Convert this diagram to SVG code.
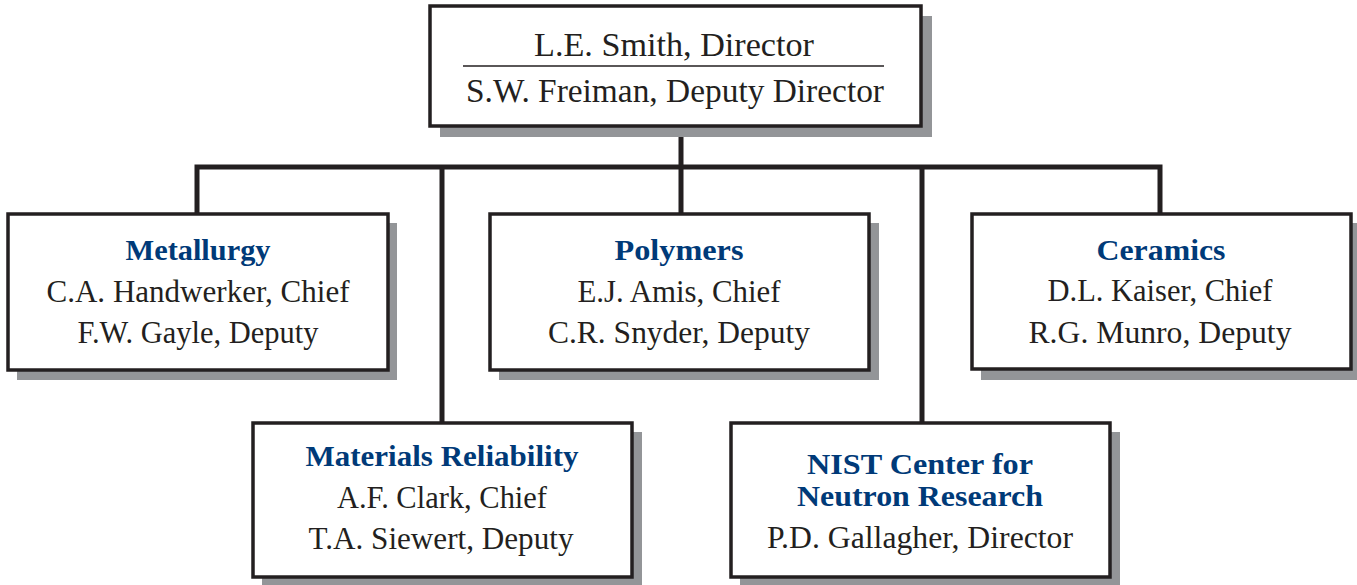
<svg xmlns="http://www.w3.org/2000/svg" width="1357" height="585" viewBox="0 0 1357 585">
<style>
.shadow{fill:#939598}
.box{fill:#fff;stroke:#231f20;stroke-width:3.5}
.t{font-family:"Liberation Serif","Times New Roman",serif;font-size:31px;fill:#231f20;text-anchor:middle}
.top{font-size:34px}
.h{font-family:"Liberation Serif","Times New Roman",serif;font-size:30px;font-weight:bold;fill:#003a78;text-anchor:middle}
.conn{fill:none;stroke:#231f20;stroke-width:5}
</style>
<rect width="1357" height="585" fill="#fff"/>
<g id="connectors">
<path class="conn" d="M681 126V167M197 214V167H1160V214M442 167V423M681 167V214M922 167V423"/>
</g>
<g id="director">
<rect class="shadow" x="440" y="16" width="492" height="121"/>
<rect class="box" x="430" y="6" width="491" height="120"/>
<line x1="463" y1="66" x2="884" y2="66" stroke="#231f20" stroke-width="1.5"/>
<text class="t top" x="674" y="56" textLength="280" lengthAdjust="spacingAndGlyphs">L.E. Smith, Director</text>
<text class="t top" x="675" y="102" textLength="418" lengthAdjust="spacingAndGlyphs">S.W. Freiman, Deputy Director</text>
</g>
<g id="metallurgy">
<rect class="shadow" x="17" y="223" width="380" height="157"/>
<rect class="box" x="8" y="214" width="380" height="156"/>
<text class="h" x="198" y="260" textLength="145" lengthAdjust="spacingAndGlyphs">Metallurgy</text>
<text class="t" x="198" y="302" textLength="303" lengthAdjust="spacingAndGlyphs">C.A. Handwerker, Chief</text>
<text class="t" x="198" y="343" textLength="241" lengthAdjust="spacingAndGlyphs">F.W. Gayle, Deputy</text>
</g>
<g id="polymers">
<rect class="shadow" x="499" y="223" width="380" height="157"/>
<rect class="box" x="490" y="214" width="379" height="156"/>
<text class="h" x="679" y="260" textLength="129" lengthAdjust="spacingAndGlyphs">Polymers</text>
<text class="t" x="679" y="302" textLength="203" lengthAdjust="spacingAndGlyphs">E.J. Amis, Chief</text>
<text class="t" x="679" y="343" textLength="262" lengthAdjust="spacingAndGlyphs">C.R. Snyder, Deputy</text>
</g>
<g id="ceramics">
<rect class="shadow" x="981" y="223" width="376" height="157"/>
<rect class="box" x="972" y="214" width="379" height="155"/>
<text class="h" x="1161" y="260" textLength="129" lengthAdjust="spacingAndGlyphs">Ceramics</text>
<text class="t" x="1160" y="301" textLength="225" lengthAdjust="spacingAndGlyphs">D.L. Kaiser, Chief</text>
<text class="t" x="1160" y="343" textLength="263" lengthAdjust="spacingAndGlyphs">R.G. Munro, Deputy</text>
</g>
<g id="materials-reliability">
<rect class="shadow" x="262" y="432" width="380" height="153"/>
<rect class="box" x="253" y="423" width="379" height="154"/>
<text class="h" x="442" y="466" textLength="273" lengthAdjust="spacingAndGlyphs">Materials Reliability</text>
<text class="t" x="442" y="508" textLength="210" lengthAdjust="spacingAndGlyphs">A.F. Clark, Chief</text>
<text class="t" x="441" y="549" textLength="265" lengthAdjust="spacingAndGlyphs">T.A. Siewert, Deputy</text>
</g>
<g id="nist-ncnr">
<rect class="shadow" x="740" y="432" width="380" height="153"/>
<rect class="box" x="731" y="423" width="379" height="154"/>
<text class="h" x="920" y="474" textLength="226" lengthAdjust="spacingAndGlyphs">NIST Center for</text>
<text class="h" x="920" y="506" textLength="246" lengthAdjust="spacingAndGlyphs">Neutron Research</text>
<text class="t" x="920" y="548" textLength="306" lengthAdjust="spacingAndGlyphs">P.D. Gallagher, Director</text>
</g>
</svg>
